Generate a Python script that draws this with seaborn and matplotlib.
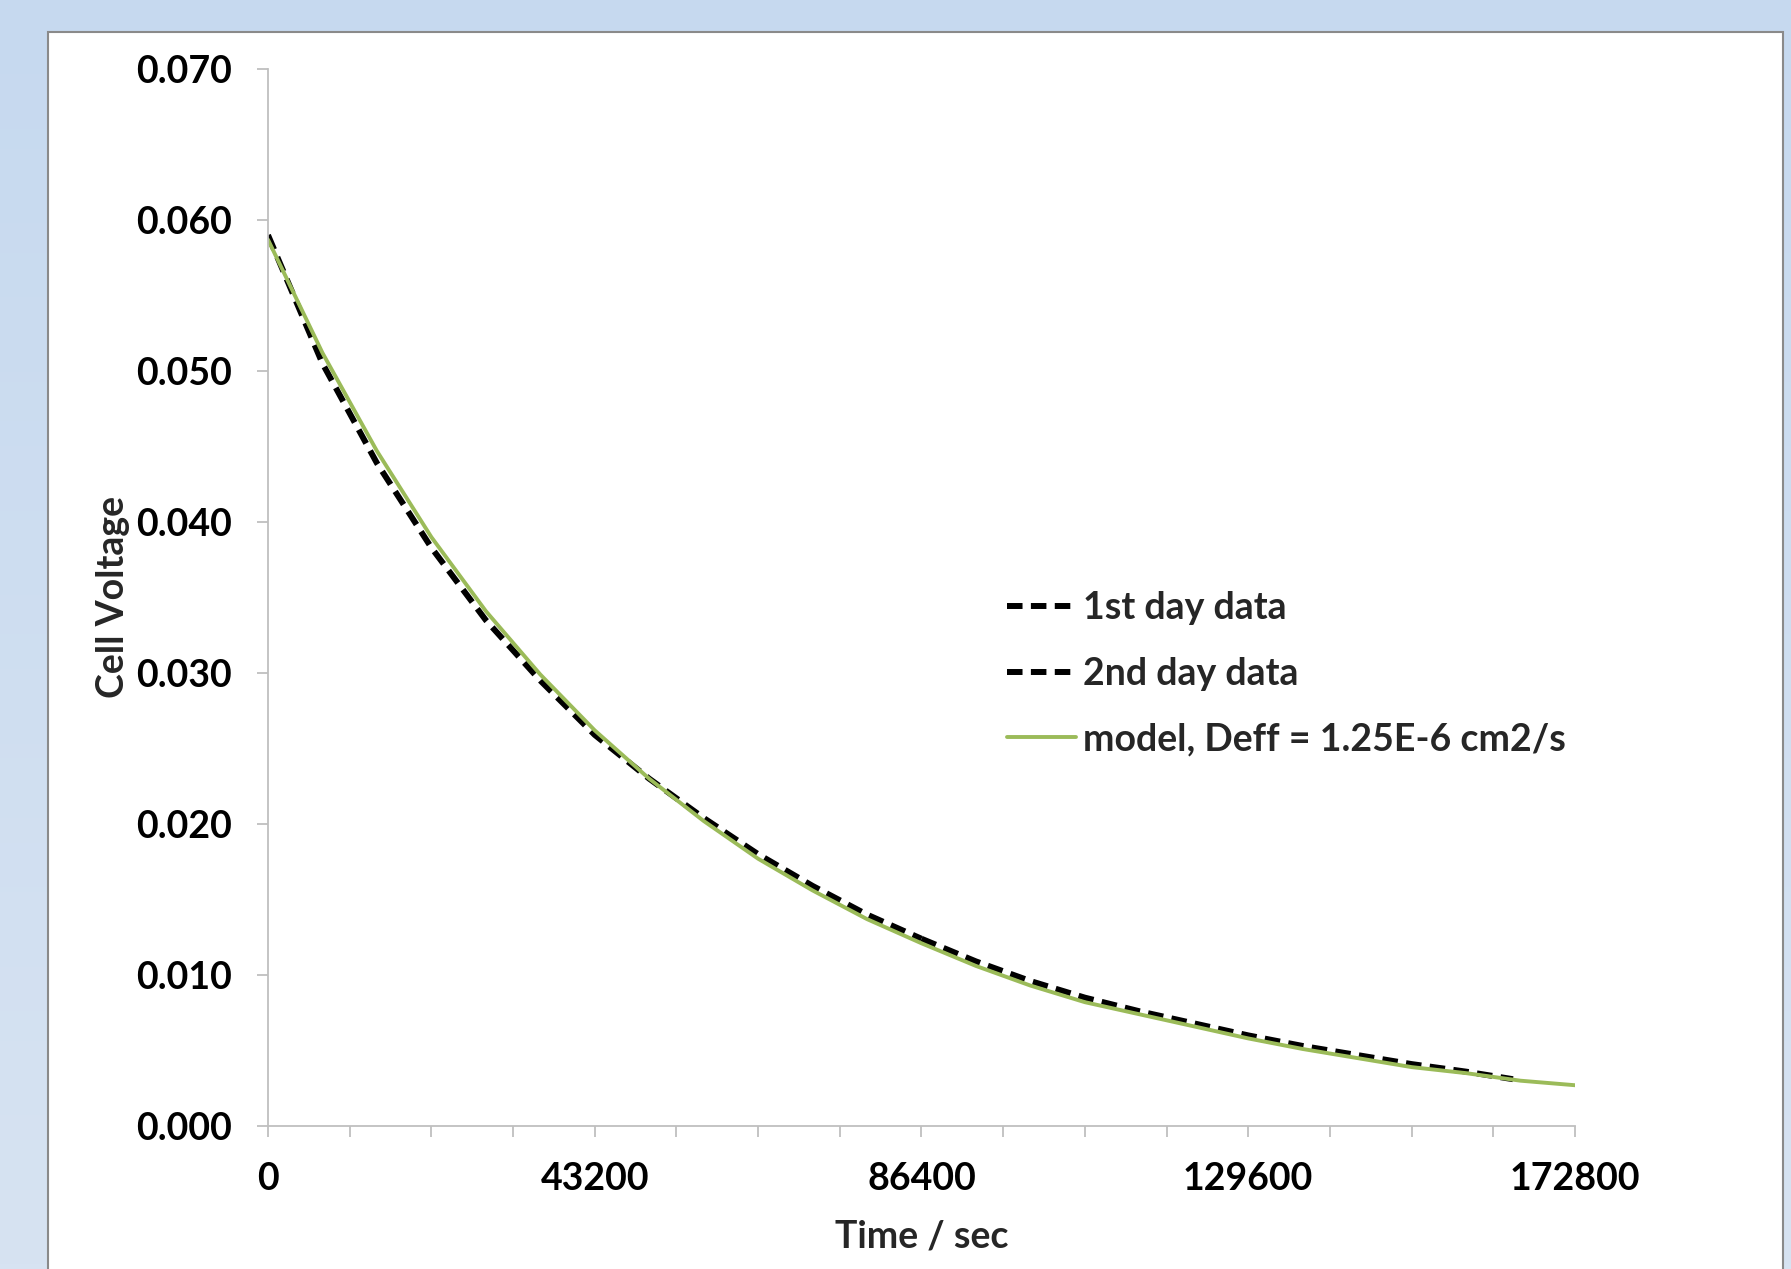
import numpy as np
import pandas as pd
import matplotlib
matplotlib.use('Agg')
import matplotlib.pyplot as plt
import seaborn as sns
from matplotlib.patches import Rectangle
from matplotlib.ticker import MultipleLocator, FormatStrFormatter

# values
time_model = [0, 7200, 14400, 21600, 28800, 36000, 43200, 50400, 57600, 64800,
              72000, 79200, 86400, 93600, 100800, 108000, 115200, 122400, 129600,
              136800, 144000, 151200, 158400, 165600, 172800]
volt_model = [0.0587, 0.0512, 0.0447, 0.0390, 0.0341, 0.0299, 0.0262, 0.0230, 0.0202, 0.0177,
              0.0156, 0.0137, 0.0121, 0.0106, 0.0093, 0.0082, 0.0074, 0.0066, 0.0058,
              0.0051, 0.0045, 0.0039, 0.0035, 0.0030, 0.0027]

time_day1 = [0, 7200, 14400, 21600, 28800, 36000, 43200, 50400, 57600, 64800, 72000, 79200, 86400]
volt_day1 = [0.0590, 0.0505, 0.0439, 0.0383, 0.0335, 0.0295, 0.0259, 0.0230, 0.0204, 0.0180, 0.0159, 0.0140, 0.0124]

time_day2 = [86400, 93600, 100800, 108000, 115200, 122400, 129600, 136800, 144000, 151200, 158400, 164600]
volt_day2 = [0.0124, 0.0109, 0.0096, 0.0085, 0.0076, 0.0068, 0.0060, 0.0053, 0.0047, 0.0041, 0.0036, 0.0031]

labels = ['1st day data', '2nd day data', 'model, Deff = 1.25E-6 cm2/s']
x_ticks = [0, 43200, 86400, 129600, 172800]
y_ticks = [0.000, 0.010, 0.020, 0.030, 0.040, 0.050, 0.060, 0.070]

sns.set_theme(style='ticks')
plt.rcParams['font.family'] = ['Lato', 'DejaVu Sans']
plt.rcParams['font.weight'] = 'bold'
plt.rcParams['axes.labelweight'] = 'bold'

green = '#9BBB59'
axis_grey = '#BFBFBF'
fs = 27

fig = plt.figure(figsize=(17.91, 12.69), dpi=100)

# light blue backdrop with white chart panel
bg = fig.add_axes([0, 0, 1, 1], zorder=-5)
grad = np.linspace(0, 1, 256).reshape(-1, 1)
cmap = matplotlib.colors.LinearSegmentedColormap.from_list('bg', ['#C6D9EF', '#D7E3F2'])
bg.imshow(grad, aspect='auto', cmap=cmap, extent=[0, 1, 0, 1], origin='upper')
bg.add_patch(Rectangle((48 / 1791, -0.02), (1783 - 48) / 1791, 0.02 + (1269 - 32) / 1269,
                       facecolor='white', edgecolor='#8A8A8A', lw=1.5, transform=bg.transAxes))
bg.set_xlim(0, 1)
bg.set_ylim(0, 1)
bg.set_axis_off()

ax = fig.add_axes([268 / 1791, 143 / 1269, (1575 - 268) / 1791, (1200 - 143) / 1269])
ax.set_facecolor('none')

df1 = pd.DataFrame({'t': time_day1, 'v': volt_day1})
df2 = pd.DataFrame({'t': time_day2, 'v': volt_day2})
dfm = pd.DataFrame({'t': time_model, 'v': volt_model})

sns.lineplot(data=df1, x='t', y='v', ax=ax, color='black', lw=4.3, label=labels[0])
sns.lineplot(data=df2, x='t', y='v', ax=ax, color='black', lw=4.3, label=labels[1])
sns.lineplot(data=dfm, x='t', y='v', ax=ax, color=green, lw=2.8, label=labels[2])
for ln in ax.lines[:2]:
    ln.set_dashes((2.6, 1.4))

ax.set_xlim(0, 172800)
ax.set_ylim(0, 0.07)
ax.set_xticks(x_ticks)
ax.xaxis.set_minor_locator(MultipleLocator(10800))
ax.set_yticks(y_ticks)
ax.yaxis.set_major_formatter(FormatStrFormatter('%.3f'))

sns.despine(ax=ax)
for s in ['left', 'bottom']:
    ax.spines[s].set_color(axis_grey)
    ax.spines[s].set_linewidth(1.3)
ax.tick_params(axis='both', which='both', color=axis_grey, width=1.3, length=8,
               labelsize=fs, pad=18, labelcolor='black')

ax.set_xlabel('Time / sec', fontsize=fs, fontweight='bold', labelpad=17)
ax.set_ylabel('Cell Voltage', fontsize=fs, fontweight='bold', labelpad=4)

ax.legend(loc='upper left', bbox_to_anchor=(988 / 1791, (1269 - 572) / 1269),
          bbox_transform=fig.transFigure, frameon=False, fontsize=fs, borderpad=0,
          handlelength=1.85, handletextpad=0.18, labelspacing=0.85)

fig.savefig('out.png', dpi=100)
